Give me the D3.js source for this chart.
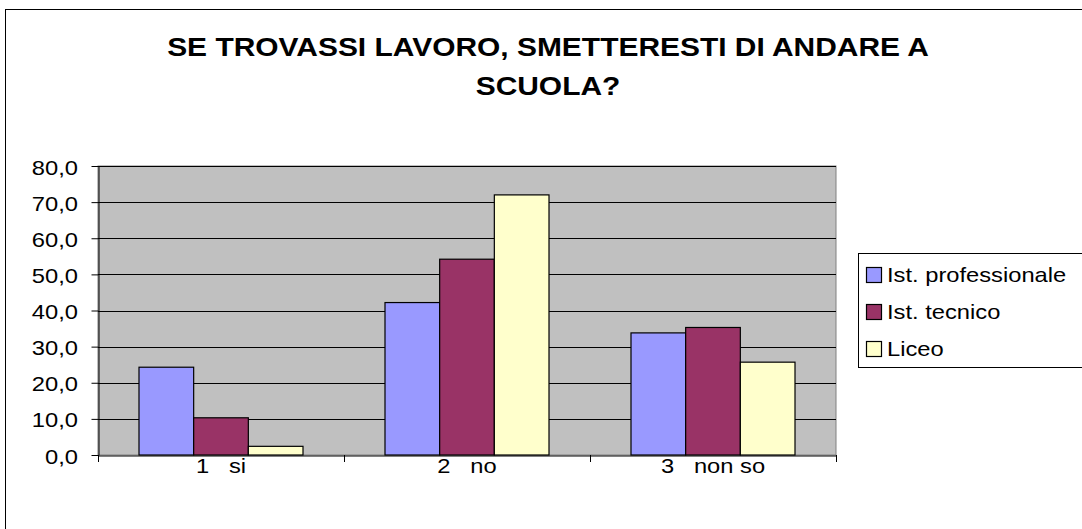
<!DOCTYPE html>
<html><head><meta charset="utf-8">
<script src="https://cdn.jsdelivr.net/npm/d3@7"></script>
<style>body{margin:0;background:#fff}svg{display:block;font-family:"Liberation Sans",Arial,sans-serif}</style>
</head><body>
<svg id="c" width="1082" height="529"></svg>
<script>
const categories = ["1   si", "2   no", "3   non so"];
const seriesNames = ["Ist. professionale", "Ist. tecnico", "Liceo"];
const istProfessionale = [24.3, 42.2, 33.8];
const istTecnico = [10.3, 54.2, 35.3];
const liceo = [2.4, 72.0, 25.7];
const yTicks = [0, 10, 20, 30, 40, 50, 60, 70, 80];
const colors = ["#9999FF", "#993366", "#FFFFCC"];
const series = [istProfessionale, istTecnico, liceo];

const SX = 1.13;
const svg = d3.select("#c");
function label(parent, x, y, str, size, anchor, bold) {
  return parent.append("text").attr("x", 0).attr("y", 0)
    .attr("transform", `translate(${x},${y}) scale(${SX},1)`)
    .attr("font-size", size).attr("text-anchor", anchor || "start")
    .attr("font-weight", bold ? "bold" : "normal").attr("fill", "#000")
    .style("white-space", "pre").text(str);
}

svg.append("rect").attr("x", 5.5).attr("y", 9.5).attr("width", 1100).attr("height", 540)
  .attr("fill", "#fff").attr("stroke", "#000").attr("stroke-width", 1);

label(svg, 548, 56, "SE TROVASSI LAVORO, SMETTERESTI DI ANDARE A", 26.5, "middle", true);
label(svg, 548, 95, "SCUOLA?", 26.5, "middle", true);

const L = 98, R = 836, T = 166, B = 455;
const x0 = d3.scaleBand().domain(categories).range([L, R]);
const inner = x0.bandwidth() / (3 + 1.5);
const x1 = d3.scaleBand().domain(seriesNames).range([0, inner * 3]);
const y = d3.scaleLinear().domain([0, 80]).range([B, T]);

svg.append("rect").attr("x", L).attr("y", T).attr("width", R - L).attr("height", B - T)
  .attr("fill", "#C0C0C0").attr("stroke", "#808080").attr("stroke-width", 1);

svg.append("g").selectAll("line").data(yTicks.filter(d => d > 0)).join("line")
  .attr("x1", L).attr("x2", R).attr("y1", d => Math.round(y(d)) + 0.5).attr("y2", d => Math.round(y(d)) + 0.5)
  .attr("stroke", "#000").attr("stroke-width", 1);

const g = svg.append("g");
categories.forEach((c, ci) => {
  series.forEach((s, si) => {
    const bx = x0(c) + inner * 0.75 + x1(seriesNames[si]);
    g.append("rect").attr("x", bx).attr("y", y(s[ci])).attr("width", x1.bandwidth())
      .attr("height", B - y(s[ci])).attr("fill", colors[si]).attr("stroke", "#000").attr("stroke-width", 1.2);
  });
});

// y axis (ticks via d3 axis, labels drawn with stretch)
const yAxis = d3.axisLeft(y).tickValues(yTicks).tickSize(7).tickSizeOuter(0).tickFormat("");
const ya = svg.append("g").attr("transform", `translate(${L + 0.5},0)`).call(yAxis);
ya.selectAll("line,path").attr("stroke", "#000");
const fmt = d => d3.format(".1f")(d).replace(".", ",");
yTicks.forEach(t => label(svg, 78, y(t) + 8.5, fmt(t), 21, "end"));

// x axis
const xAxis = d3.axisBottom(x0).tickSize(0).tickSizeOuter(0).tickFormat("");
const xa = svg.append("g").attr("transform", `translate(0,${B + 0.5})`).call(xAxis);
xa.select("path").attr("stroke", "#000");
categories.forEach(c => label(svg, x0(c) + x0.bandwidth() / 2, 473, c, 21, "middle"));
const edges = categories.map(c => x0(c)).concat([R]);
svg.append("g").selectAll("line").data(edges).join("line")
  .attr("x1", d => Math.round(d) + 0.5).attr("x2", d => Math.round(d) + 0.5)
  .attr("y1", B).attr("y2", B + 7).attr("stroke", "#000");

// legend
const lg = svg.append("g");
lg.append("rect").attr("x", 858.5).attr("y", 253.5).attr("width", 240).attr("height", 114)
  .attr("fill", "#fff").attr("stroke", "#000");
seriesNames.forEach((n, i) => {
  const base = 282 + i * 37;
  lg.append("rect").attr("x", 866.5).attr("y", base - 14.5).attr("width", 15).attr("height", 15)
    .attr("fill", colors[i]).attr("stroke", "#000").attr("stroke-width", 1.2);
  label(lg, 887, base, n, 21, "start");
});
</script>
</body></html>
